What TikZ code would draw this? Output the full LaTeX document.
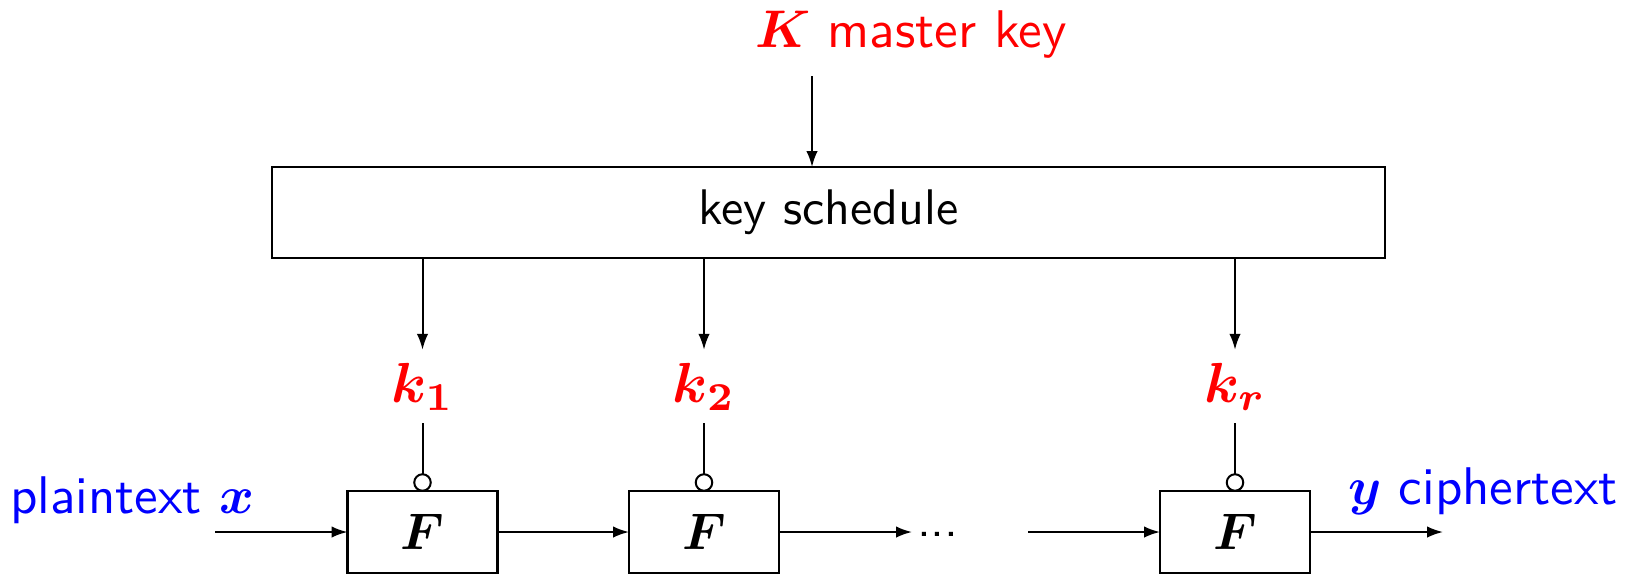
\RequirePackage{fix-cm}
\documentclass[tikz,border=0pt]{standalone}
\usepackage{bm}
\usetikzlibrary{arrows.meta}
\definecolor{kred}{RGB}{255,0,0}
\definecolor{tblue}{RGB}{0,0,255}
\begin{document}
\begin{tikzpicture}[x=0.2pt,y=-0.2pt,
  every node/.style={font=\sffamily, inner sep=0pt, outer sep=0pt},
  lbl/.style={font=\sffamily\fontsize{10.6}{12}\selectfont},
  ksbox/.style={draw, line width=0.5pt, minimum width=222.6pt, minimum height=18.2pt},
  fbox/.style={draw, line width=0.5pt, minimum width=30pt, minimum height=16.4pt, font=\fontsize{10.3}{12}\selectfont},
  kcirc/.style={draw, circle, line width=0.4pt, minimum size=3.3pt, fill=white},
  klab/.style={text=kred, inner ysep=2.6pt, font=\fontsize{11.3}{13}\selectfont},
  arr/.style={line width=0.4pt, -{Latex[length=3.2pt,width=2.3pt]}},
  ln/.style={line width=0.4pt}]
\useasboundingbox (0,0) rectangle (1625,574);

\node[ksbox] (ks) at (828.5,212.5) {key schedule};
\node[lbl, text=kred, anchor=base west] (mk) at (755,47) {$\bm{K}$ master key};
\coordinate (kin) at (812,76);
\draw[arr] (kin) -- (kin |- ks.north);

\node[fbox] (f1) at (422.5,532) {$\bm{F}$};
\node[fbox] (f2) at (704,532) {$\bm{F}$};
\node[fbox] (f3) at (1235,532) {$\bm{F}$};

\node[klab, anchor=base] (k1) at (422.5,402) {$\bm{k_1}$};
\node[klab, anchor=base] (k2) at (704,402) {$\bm{k_2}$};
\node[klab, anchor=base] (kr) at (1235,402) {$\bm{k_r}$};

\node[kcirc] (c1) at (422.5,482.5) {};
\node[kcirc] (c2) at (704,482.5) {};
\node[kcirc] (c3) at (1235,482.5) {};

\draw[arr] (ks.south -| k1) -- (k1.north);
\draw[arr] (ks.south -| k2) -- (k2.north);
\draw[arr] (ks.south -| kr) -- (kr.north);
\draw[ln] (k1.south) -- (c1.north);
\draw[ln] (k2.south) -- (c2.north);
\draw[ln] (kr.south) -- (c3.north);

\node[lbl, text=tblue, anchor=base west] (pt) at (10,513) {plaintext $\bm{x}$};
\coordinate (xin) at (215,532);
\draw[arr] (xin) -- (f1.west);
\draw[arr] (f1.east) -- (f2.west);
\coordinate (d1) at (912,532);
\draw[arr] (f2.east) -- (d1);
\node[anchor=base west] (dots) at (917,536) {...};
\coordinate (d2) at (1028,532);
\draw[arr] (d2) -- (f3.west);
\coordinate (yout) at (1443,532);
\draw[arr] (f3.east) -- (yout);
\node[lbl, text=tblue, anchor=base west] (ct) at (1348,504) {$\bm{y}$ ciphertext};
\end{tikzpicture}
\end{document}
